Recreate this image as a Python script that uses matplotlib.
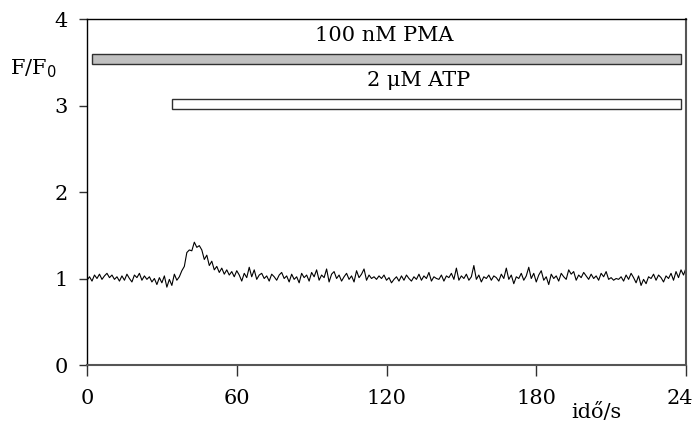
import numpy as np
import matplotlib
matplotlib.use("Agg")
import matplotlib.pyplot as plt

plt.rcParams['font.family'] = ['DejaVu Serif']

# F/F0 trace, one value per second (0..240 s)
ratio = [
    0.98, 1.02, 0.97, 1.04, 1.00, 1.05, 0.99, 1.03, 1.06, 1.01,
    1.04, 0.99, 1.02, 0.97, 1.03, 0.98, 1.05, 1.00, 0.96, 1.04,
    1.01, 1.06, 0.98, 1.03, 0.99, 1.02, 0.96, 1.00, 0.93, 1.01,
    0.95, 1.03, 0.90, 0.99, 0.92, 1.05, 0.98, 1.02, 1.09, 1.14,
    1.30, 1.33, 1.32, 1.42, 1.36, 1.38, 1.33, 1.22, 1.27, 1.15,
    1.20, 1.10, 1.14, 1.07, 1.12, 1.05, 1.10, 1.04, 1.08, 1.02,
    1.09, 1.04, 0.97, 1.06, 1.01, 1.13, 1.02, 1.10, 0.99, 1.04,
    1.06, 1.00, 1.03, 0.97, 1.05, 1.02, 0.98, 1.04, 1.07, 1.00,
    1.03, 0.96, 1.05, 0.99, 1.02, 0.95, 1.06, 1.01, 1.04, 0.97,
    1.07, 1.02, 1.10, 0.98, 1.04, 1.01, 1.11, 0.96, 1.05, 1.08,
    1.00, 1.04, 0.97, 1.02, 1.06, 0.99, 1.03, 0.96, 1.09, 1.01,
    1.05, 1.11, 0.98, 1.04, 1.00, 1.02, 0.99, 1.03, 1.00, 1.04,
    0.98, 1.01, 0.95, 0.99, 1.02, 0.97, 1.03, 0.98, 1.04, 1.00,
    0.97, 1.02, 0.99, 1.05, 0.98, 1.03, 1.00, 1.07, 0.97, 1.02,
    1.00, 0.99, 1.04, 0.97, 1.03, 1.01, 1.06, 0.99, 1.12, 0.98,
    1.03, 1.00, 1.05, 0.98, 1.02, 1.15, 0.99, 1.04, 0.96, 1.02,
    1.00, 1.04, 0.98, 1.03, 1.01, 0.97, 1.05, 1.00, 1.12, 0.99,
    1.04, 0.94, 1.02, 1.00, 1.06, 0.98, 1.03, 1.13, 1.00, 1.06,
    0.96, 1.04, 1.09, 0.98, 1.02, 0.93, 1.05, 1.00, 1.03, 0.97,
    1.06, 1.02, 0.99, 1.10, 1.05, 1.08, 0.98, 1.04, 1.01, 1.07,
    1.03, 0.99, 1.05, 1.00, 1.03, 0.98, 1.06, 1.02, 1.08, 0.99,
    1.01, 0.98, 1.00, 0.99, 1.02, 0.97, 1.04, 0.99, 1.06, 1.01,
    0.95, 1.03, 0.92, 0.99, 0.94, 1.02, 1.00, 1.05, 0.98, 1.04,
    1.01, 0.96, 1.03, 1.00, 1.06, 0.98, 1.08, 1.01, 1.10, 1.04,
    1.12,
]
time_s = np.arange(len(ratio))

# treatment bars
treat_names = ["100 nM PMA", "2 \u03bcM ATP"]
treat_start = [2, 34]
treat_end = [238, 238]
treat_level = [3.54, 3.02]
treat_label_x = [119, 133]
treat_colors = ["#c0c0c0", "white"]

xticks = [0, 60, 120, 180, 240]
yticks = [0, 1, 2, 3, 4]

fig = plt.figure(figsize=(6.93, 4.23), dpi=100)
ax = fig.add_axes([87/693, 58/423, 599/693, 346/423])

ax.plot(time_s, ratio, color="black", lw=0.8)

for name, s, e, lev, lx, c in zip(treat_names, treat_start, treat_end,
                                  treat_level, treat_label_x, treat_colors):
    ax.barh(lev, e - s, left=s, height=0.12, color=c, edgecolor="#303030", linewidth=1.0)
    ax.text(lx, lev + 0.27, name, ha="center", va="center", fontsize=15)

ax.set_xlim(0, 240)
ax.set_ylim(0, 4)
ax.set_xticks(xticks)
ax.set_yticks(yticks)
ax.tick_params(axis="both", direction="out", labelsize=15, width=1.0, color="#303030")
ax.tick_params(axis="x", length=8, pad=9)
ax.tick_params(axis="y", length=6, pad=8)

for side in ["left", "top"]:
    ax.spines[side].set_color("black")
    ax.spines[side].set_linewidth(1.0)
for side in ["right", "bottom"]:
    ax.spines[side].set_color("#555555")
    ax.spines[side].set_linewidth(1.5)

ax.set_ylabel("F/F$_0$", rotation=0, fontsize=15, ha="center", va="center")
ax.yaxis.set_label_coords(-0.09, 0.855)
ax.set_xlabel("idő/s", fontsize=15, ha="center", va="center")
ax.xaxis.set_label_coords(0.851, -0.136)

fig.savefig("out.png", dpi=100)
